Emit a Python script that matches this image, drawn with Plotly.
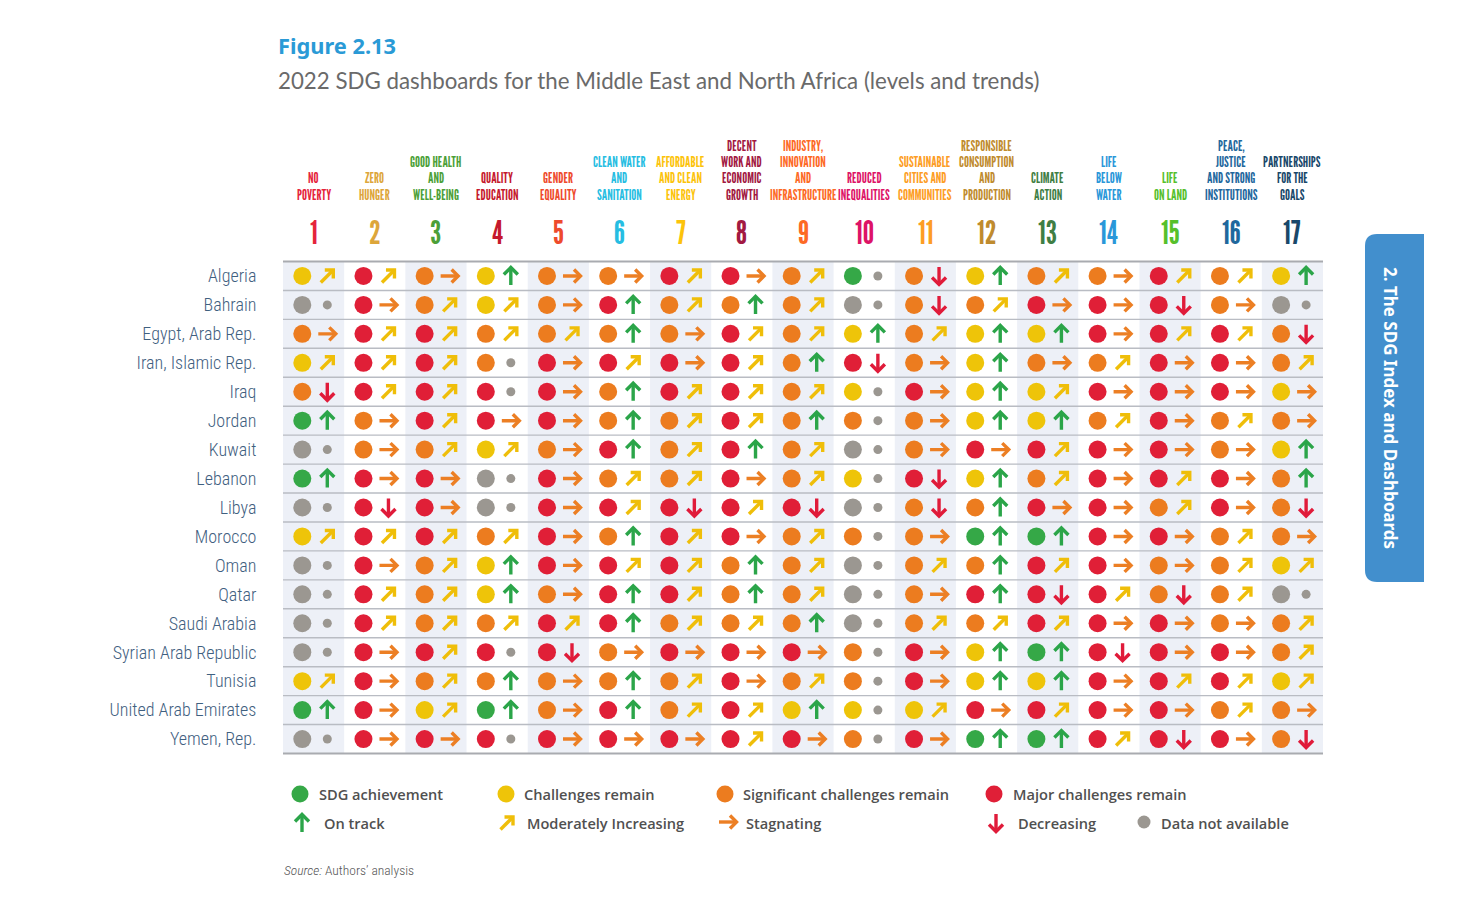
import plotly.graph_objects as go

countries = ["Algeria", "Bahrain", "Egypt, Arab Rep.", "Iran, Islamic Rep.", "Iraq", "Jordan", "Kuwait",
             "Lebanon", "Libya", "Morocco", "Oman", "Qatar", "Saudi Arabia", "Syrian Arab Republic",
             "Tunisia", "United Arab Emirates", "Yemen, Rep."]

goal_numbers = list(range(1, 18))
goal_names = [
    ["NO", "POVERTY"],
    ["ZERO", "HUNGER"],
    ["GOOD HEALTH", "AND", "WELL-BEING"],
    ["QUALITY", "EDUCATION"],
    ["GENDER", "EQUALITY"],
    ["CLEAN WATER", "AND", "SANITATION"],
    ["AFFORDABLE", "AND CLEAN", "ENERGY"],
    ["DECENT", "WORK AND", "ECONOMIC", "GROWTH"],
    ["INDUSTRY,", "INNOVATION", "AND", "INFRASTRUCTURE"],
    ["REDUCED", "INEQUALITIES"],
    ["SUSTAINABLE", "CITIES AND", "COMMUNITIES"],
    ["RESPONSIBLE", "CONSUMPTION", "AND", "PRODUCTION"],
    ["CLIMATE", "ACTION"],
    ["LIFE", "BELOW", "WATER"],
    ["LIFE", "ON LAND"],
    ["PEACE,", "JUSTICE", "AND STRONG", "INSTITUTIONS"],
    ["PARTNERSHIPS", "FOR THE", "GOALS"],
]
goal_colors = ["#E5243B", "#DDA63A", "#4C9F38", "#C5192D", "#EE4A2C", "#26BDE2", "#FCC30B", "#A21942", "#FD6925",
               "#DD1367", "#FD9D24", "#BF8B2E", "#3F7E44", "#2A97D9", "#56C02B", "#1F689D", "#19486A"]

# one letter per goal: G achievement, Y challenges, O significant, R major, N no data
levels = [
    "YROYO" "ORROGO" "YOOROY",
    "NROYO" "ROOONO" "ORRRON",
    "ORROO" "OOROYO" "YYRRRO",
    "YRROR" "RRRORO" "YOORRO",
    "ORRRR" "ORROYR" "YYRRRY",
    "GORRR" "OOROOO" "YYOROO",
    "NOOYO" "RORONO" "RRRROY",
    "GRRNR" "OOROYR" "YORRRO",
    "NRRNR" "RRRRNO" "ORRORO",
    "YRROR" "ORROOO" "GGRROO",
    "NROYR" "RROONO" "ORROOY",
    "NROYO" "RROONO" "RRROON",
    "NROOR" "ROOONO" "ORRROO",
    "NRRRR" "ORRROR" "YGRRRO",
    "YROOO" "OOROOR" "YYRRRY",
    "GRYGO" "RORYYY" "RRRROO",
    "NRRRR" "RRRROR" "GGRRRO",
]
# U on track, M moderately increasing, S stagnating, D decreasing, N no data
trends = [
    "MMSUS" "SMSMND" "UMSMMU",
    "NSMMS" "UMUMND" "MSSDSN",
    "SMMMM" "USMMUM" "UUSMMD",
    "MMMNS" "MSMUDS" "USMSSM",
    "DMMNS" "UMMMNS" "UMSSSS",
    "USMSS" "UMMUNS" "UUMSMS",
    "NSMMS" "UMUMNS" "SMSSSU",
    "USSNS" "MMSMND" "UMSMSU",
    "NDSNS" "MDMDND" "USSMSD",
    "MMMMS" "UMSMNS" "UUSSMS",
    "NSMUS" "MMUMNM" "UMSSMM",
    "NMMUS" "UMUMNS" "UDMDMN",
    "NMMMM" "UMMUNM" "MMSSSM",
    "NSMND" "SSSSNS" "UUDSSM",
    "MSMUS" "UMSMNS" "UUSMMM",
    "USMUS" "UMMUNM" "SMSSMS",
    "NSSNS" "SSMSNS" "UUMDSD",
]

level_names = {"G": "SDG achievement", "Y": "Challenges remain", "O": "Significant challenges remain",
               "R": "Major challenges remain", "N": "Data not available"}
level_colors = {"G": "#35A847", "Y": "#EEC409", "O": "#EC7C1F", "R": "#E01F37", "N": "#9B9791"}
trend_names = {"U": "On track", "M": "Moderately Increasing", "S": "Stagnating", "D": "Decreasing"}
trend_colors = {"U": "#2BA549", "M": "#EFBE09", "S": "#EC7F24", "D": "#E01B3A"}

GOTHIC = "League Gothic, Bebas Neue, Roboto Condensed, sans-serif"
CONDENSED = "Roboto Condensed, Liberation Sans Narrow, sans-serif"

# the page body keeps a margin of 8 px around the figure
PAGE_MARGIN = 8
W, H = 1459, 885
TABLE_LEFT, TABLE_RIGHT = 283, 1323
TABLE_TOP, TABLE_BOTTOM = 261.5, 753.5
COL_PX = (TABLE_RIGHT - TABLE_LEFT) / 17
ROW_PX = (TABLE_BOTTOM - TABLE_TOP) / 17
DOT_SHIFT, ARROW_SHIFT = -11.3 / COL_PX, 13.7 / COL_PX

# arrow outlines in pixels around the arrow's centre, down is positive
arrow_paths = {
    "U": [[(0, 9), (0, -8.5)], [(-7, -1.5), (0, -8.5), (7, -1.5)]],
    "D": [[(0, -9), (0, 8.5)], [(-7, 1.5), (0, 8.5), (7, 1.5)]],
    "S": [[(-9, 0), (8.5, 0)], [(2, -6.5), (8.5, 0), (2, 6.5)]],
    "M": [[(-6.5, 6.5), (6, -6)], [(-2.5, -6), (6, -6), (6, 2.5)]],
}


def arrow_xy(kind, centres, x_unit, y_unit):
    xs, ys = [], []
    for cx, cy in centres:
        for part in arrow_paths[kind]:
            xs += [cx + px / x_unit for px, _ in part] + [None]
            ys += [cy + py / y_unit for _, py in part] + [None]
    return xs, ys


fig = go.Figure()

# level dots and trend marks of the table
for code, color in level_colors.items():
    cells = [(c, r) for r, row in enumerate(levels) for c, v in enumerate(row) if v == code]
    fig.add_trace(go.Scatter(x=[c + DOT_SHIFT for c, _ in cells], y=[r for _, r in cells], mode="markers",
                             name=level_names[code], showlegend=False,
                             marker=dict(size=18, color=color, line_width=0)))
for code, color in trend_colors.items():
    cells = [(c + ARROW_SHIFT, r) for r, row in enumerate(trends) for c, v in enumerate(row) if v == code]
    xs, ys = arrow_xy(code, cells, COL_PX, ROW_PX)
    fig.add_trace(go.Scatter(x=xs, y=ys, mode="lines", name=trend_names[code], showlegend=False,
                             line=dict(color=color, width=3.4), hoverinfo="skip"))
cells = [(c, r) for r, row in enumerate(trends) for c, v in enumerate(row) if v == "N"]
fig.add_trace(go.Scatter(x=[c + ARROW_SHIFT for c, _ in cells], y=[r for _, r in cells], mode="markers",
                         name="Data not available", showlegend=False,
                         marker=dict(size=9, color=level_colors["N"], line_width=0)))

# legend keys sit on a second pair of axes that spans the page in pixels
legend_dots = [("G", 300, 794), ("Y", 506, 794), ("O", 725, 794), ("R", 994, 794)]
for code, x, y in legend_dots:
    fig.add_trace(go.Scatter(x=[x], y=[y], xaxis="x2", yaxis="y2", mode="markers", showlegend=False,
                             hoverinfo="skip", marker=dict(size=17, color=level_colors[code], line_width=0)))
legend_arrows = [("U", 302, 823), ("M", 507, 823), ("S", 728, 822), ("D", 996, 823)]
for code, x, y in legend_arrows:
    xs, ys = arrow_xy(code, [(x, y)], 1, 1)
    fig.add_trace(go.Scatter(x=xs, y=ys, xaxis="x2", yaxis="y2", mode="lines", showlegend=False,
                             hoverinfo="skip", line=dict(color=trend_colors[code], width=3.4)))
fig.add_trace(go.Scatter(x=[1144], y=[822], xaxis="x2", yaxis="y2", mode="markers", showlegend=False,
                         hoverinfo="skip", marker=dict(size=13, color=level_colors["N"], line_width=0)))

shapes = []
for c in range(0, 17, 2):
    shapes.append(dict(type="rect", xref="x", yref="y domain", x0=c - 0.5, x1=c + 0.5, y0=0, y1=1,
                       fillcolor="#EDF0F7", line_width=0, layer="below"))
for r in range(1, 17):
    shapes.append(dict(type="line", xref="x domain", yref="y", x0=0, x1=1, y0=r - 0.5, y1=r - 0.5,
                       line=dict(color="#B9BCC3", width=1.4), layer="below"))
for y in (0, 1):
    shapes.append(dict(type="line", xref="x domain", yref="y domain", x0=0, x1=1, y0=y, y1=y,
                       line=dict(color="#A9ABB0", width=2), layer="below"))
# side tab, rounded on the left only
shapes.append(dict(type="path", xref="x2", yref="y2", fillcolor="#428FCD", line_width=0,
                   path="M1424,234 L1377,234 Q1365,234 1365,246 L1365,570 Q1365,582 1377,582 L1424,582 Z"))


def page_text(x, y, text, size, color, family, weight=None, anchor="left", angle=0):
    return dict(xref="x2", yref="y2", x=x, y=y, text=text, showarrow=False, xanchor=anchor, yanchor="middle",
                textangle=angle, font=dict(size=size, color=color, family=family, weight=weight))


annotations = []
for g, (num, lines, color) in enumerate(zip(goal_numbers, goal_names, goal_colors)):
    annotations.append(dict(xref="x", yref="y2", x=g, y=232, text=str(num), showarrow=False, yanchor="middle",
                            font=dict(size=32, color=color, family=GOTHIC)))
    for k, line in enumerate(reversed(lines)):
        annotations.append(dict(xref="x", yref="y2", x=g, y=194 - k * 16.3, text=line, showarrow=False,
                                yanchor="middle", font=dict(size=14, color=color, family=GOTHIC)))

annotations += [
    page_text(276, 45, "Figure 2.13", 21.8, "#2A9AD6", "Noto Sans", "bold"),
    page_text(276, 80, "2022 SDG dashboards for the Middle East and North Africa (levels and trends)",
              22.3, "#6A6A6A", "Lato"),
    page_text(1391, 408, "2. The SDG Index and Dashboards", 17, "#FFFFFF", "Noto Sans", "bold", "center", 90),
    page_text(282, 870, "<i>Source:</i> Authors’ analysis", 13.5, "#555555", CONDENSED, 300),
]
legend_texts = [
    (317, 794, level_names["G"]), (522, 794, level_names["Y"]), (741, 794, level_names["O"]),
    (1011, 794, level_names["R"]), (322, 823, trend_names["U"]), (525, 823, trend_names["M"]),
    (744, 823, trend_names["S"]), (1016, 823, trend_names["D"]), (1159, 823, level_names["N"]),
]
for x, y, text in legend_texts:
    annotations.append(page_text(x, y, text, 14.6, "#505050", "Open Sans", 600))

fig.update_layout(
    width=W, height=H, margin=dict(l=0, r=0, t=0, b=0), paper_bgcolor="white", plot_bgcolor="rgba(0,0,0,0)",
    showlegend=False, shapes=shapes, annotations=annotations,
    xaxis=dict(domain=[(TABLE_LEFT - PAGE_MARGIN) / W, (TABLE_RIGHT - PAGE_MARGIN) / W], range=[-0.5, 16.5],
               showgrid=False, zeroline=False, showticklabels=False, ticks=""),
    yaxis=dict(domain=[1 - (TABLE_BOTTOM - PAGE_MARGIN) / H, 1 - (TABLE_TOP - PAGE_MARGIN) / H], range=[16.5, -0.5],
               showgrid=False, zeroline=False, tickmode="array", tickvals=list(range(17)), ticktext=countries,
               ticks="outside", ticklen=22, tickcolor="rgba(0,0,0,0)",
               tickfont=dict(size=18, color="#3F6080", family=CONDENSED, weight=300)),
    xaxis2=dict(domain=[0, 1], range=[PAGE_MARGIN, PAGE_MARGIN + W], visible=False, anchor="y2", fixedrange=True),
    yaxis2=dict(domain=[0, 1], range=[PAGE_MARGIN + H, PAGE_MARGIN], visible=False, anchor="x2", fixedrange=True),
)

fig.write_html("out.html")
